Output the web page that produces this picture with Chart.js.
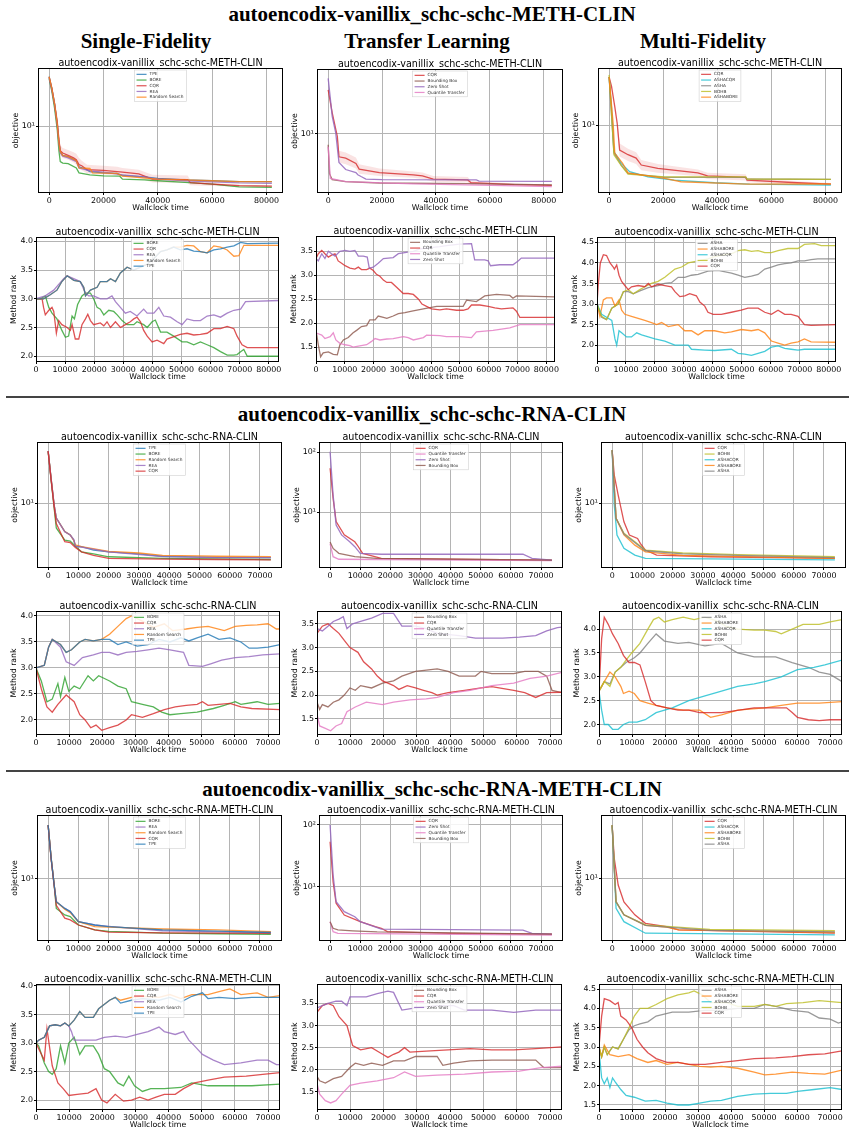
<!DOCTYPE html>
<html>
<head>
<meta charset="utf-8">
<script src="https://cdn.jsdelivr.net/npm/chart.js@4.4.1/dist/chart.umd.min.js"></script>
<style>
  body { margin: 0; background: #fff; width: 854px; height: 1135px; position: relative; overflow: hidden; }
  canvas { position: absolute; }
  .h { position: absolute; font-family: 'Liberation Serif', serif; font-weight: bold; font-size: 21px;
       line-height: 21px; white-space: nowrap; transform: translateX(-50%); color: #000; }
  .sep { position: absolute; left: 6px; width: 843px; height: 2px; background: #444; }
</style>
</head>
<body>
<div class="h" style="left:432px;top:4px">autoencodix-vanillix_schc-schc-METH-CLIN</div>
<div class="h" style="left:146px;top:31px">Single-Fidelity</div>
<div class="h" style="left:427px;top:31px">Transfer Learning</div>
<div class="h" style="left:703px;top:31px">Multi-Fidelity</div>
<div class="sep" style="top:396px"></div>
<div class="h" style="left:432px;top:404px">autoencodix-vanillix_schc-schc-RNA-CLIN</div>
<div class="sep" style="top:770px"></div>
<div class="h" style="left:432px;top:779px">autoencodix-vanillix_schc-schc-RNA-METH-CLIN</div>

<script>
/* ── ticks ── */
const X_TICKS_20K = [0, 20000, 40000, 60000, 80000];
const X_TICKS_10K = [0, 10000, 20000, 30000, 40000, 50000, 60000, 70000, 80000];
const LOG_TICKS   = [10, 100];
const LOG_LABELS  = ['10¹', '10²'];
const RANK_TICKS  = [1.5, 2.0, 2.5, 3.0, 3.5, 4.0, 4.5];

const T1 = 'autoencodix-vanillix_schc-schc-METH-CLIN';
const T2 = 'autoencodix-vanillix_schc-schc-RNA-CLIN';
const T3 = 'autoencodix-vanillix_schc-schc-RNA-METH-CLIN';

/* ── data: [wallclock time in thousands, value] ── */

/* METH-CLIN objective */
const A_sf_TPE  = [[0,37],[1,27],[2,18],[3,10.5],[3.6,6.5],[4.1,5.1],[5,4.6],[7,4.45],[10,4.0],[11,3.4],[13,3.25],[15,3.0],[20,2.9],[25,2.85],[27,2.7],[35,2.6],[40,2.5],[50,2.4],[60,2.35],[70,2.3],[82,2.3]];
const A_sf_BORE = [[0,35],[1,25],[2,16],[3,9],[3.6,5.2],[4.1,3.9],[5,3.75],[7,3.7],[10,3.3],[11,2.9],[15,2.75],[20,2.68],[26,2.65],[27,2.45],[35,2.4],[40,2.35],[50,2.25],[60,2.15],[70,2.0],[82,1.97]];
const A_sf_CQR  = [[0,36.5],[1,27],[2,18],[3,11],[3.6,7],[4.1,5.2],[5,4.9],[7,4.6],[9,4.3],[10,4.1],[11,3.6],[12,3.5],[14,3.15],[20,3.1],[25,3.0],[27,2.95],[33,2.82],[38,2.45],[51,2.42],[52,2.23],[60,2.15],[70,2.07],[82,2.04]];
const A_sf_REA  = [[0,36],[1,26],[2,17.5],[3,10],[3.6,6.2],[4.1,4.9],[5,4.5],[7,4.3],[10,3.9],[11,3.3],[15,3.05],[20,2.95],[27,2.75],[35,2.6],[40,2.45],[50,2.35],[60,2.28],[70,2.22],[82,2.2]];
const A_sf_RS   = [[0,37],[1,27],[2,18],[3,10.5],[3.6,6.5],[4.1,5.1],[5,4.6],[7,4.45],[10,4.0],[11,3.3],[15,3.25],[16,2.9],[25,2.85],[27,2.65],[40,2.45],[50,2.4],[60,2.35],[70,2.3],[82,2.3]];
const A_sf_CQR_HI = [[2,21],[3,13],[3.6,8.5],[4.1,6.0],[5,5.6],[7,5.3],[9,5.0],[10,4.8],[11,4.3],[12,4.0],[14,3.6],[20,3.5],[25,3.4],[27,3.3],[33,3.15],[38,2.75],[51,2.7],[52,2.4],[60,2.25],[70,2.12],[82,2.08]];
const A_sf_CQR_LO = [[2,15],[3,9],[3.6,5.8],[4.1,4.6],[5,4.3],[7,4.1],[9,3.8],[10,3.6],[11,3.2],[12,3.1],[14,2.85],[20,2.8],[25,2.7],[27,2.65],[33,2.55],[38,2.25],[51,2.22],[52,2.08],[60,2.05],[70,2.02],[82,2.0]];

const A_tl_CQR = [[0,38],[1.5,19],[3.4,9.2],[4,5.0],[6.5,4.8],[10.3,4.1],[11.5,3.45],[19,3.1],[31.6,2.9],[35,2.8],[39,2.55],[51.8,2.48],[53,2.28],[69,2.15],[83,2.11]];
const A_tl_BB  = [[0,7.2],[0.5,3.0],[1.5,2.5],[6.5,2.36],[19,2.26],[51.8,2.22],[83,2.14]];
const A_tl_ZS  = [[0,54],[1.5,17],[2.8,10.3],[4,4.2],[6.5,3.4],[10.3,3.1],[11,2.9],[12.2,2.75],[14,2.55],[20,2.5],[55,2.48],[56,2.4],[83,2.38]];
const A_tl_QT  = [[0,6.8],[0.8,2.6],[6.5,2.36],[31.6,2.2],[56,2.12],[83,2.03]];
const A_tl_CQR_HI = [[3.4,11],[4,6.0],[6.5,5.7],[10.3,4.9],[11.5,4.0],[19,3.5],[31.6,3.2],[35,3.1],[39,2.8],[51.8,2.72],[53,2.4],[69,2.22],[83,2.16]];
const A_tl_CQR_LO = [[3.4,7.8],[4,4.2],[6.5,4.0],[10.3,3.5],[11.5,3.0],[19,2.8],[31.6,2.65],[35,2.55],[39,2.35],[51.8,2.3],[53,2.15],[69,2.08],[83,2.06]];

const A_mf_CQR      = [[0,36],[0.9,28],[2.1,16.4],[3,10.5],[3.9,5.2],[7,4.6],[10,4.2],[11.9,3.5],[18,3.2],[32.8,2.85],[36.4,2.62],[50.5,2.52],[51,2.35],[69.6,2.19],[82,2.11]];
const A_mf_ASHACQR  = [[0,36],[0.9,16],[1.8,5.0],[4.5,3.66],[7.6,2.94],[14.4,2.56],[24,2.35],[39,2.19],[52,2.11],[82,2.06]];
const A_mf_ASHA     = [[0,36],[1.8,4.8],[4.5,3.5],[7,2.8],[20.5,2.52],[50.5,2.52],[51,2.42],[82,2.39]];
const A_mf_BOHB     = [[0,38],[1.8,4.6],[4.5,3.45],[7,2.75],[20.5,2.56],[50.5,2.56],[51,2.42],[82,2.39]];
const A_mf_ASHABORE = [[0,36],[1.5,10.5],[2.1,4.8],[5,3.66],[7,2.85],[20.5,2.46],[26.6,2.25],[51,2.11],[82,2.12]];
const A_mf_CQR_HI = [[3,12],[3.9,6.2],[7,5.4],[10,4.9],[11.9,4.0],[18,3.6],[32.8,3.1],[36.4,2.85],[50.5,2.75],[51,2.5],[69.6,2.28],[82,2.18]];
const A_mf_CQR_LO = [[3,9],[3.9,4.4],[7,3.9],[10,3.6],[11.9,3.05],[18,2.85],[32.8,2.6],[36.4,2.42],[50.5,2.32],[51,2.22],[69.6,2.1],[82,2.05]];

/* METH-CLIN rank */
const A_sr_TPE  = [[0,3.0],[2.6,3.0],[4.9,3.07],[7.2,3.15],[8.9,3.3],[10.7,3.4],[13,3.32],[15.2,3.3],[16.4,3.2],[17,3.05],[18.7,3.15],[21,3.2],[22.1,3.3],[24.4,3.3],[25.6,3.35],[27.3,3.3],[29,3.45],[31.3,3.55],[33.6,3.5],[35.9,3.55],[38.2,3.6],[40.5,3.7],[42.8,3.82],[45,3.85],[47.3,3.9],[49.6,3.85],[51.9,3.87],[54.2,3.83],[56.5,3.82],[58.8,3.8],[61.1,3.85],[63.4,3.87],[65.7,3.9],[68,3.92],[70.3,3.98],[72.6,3.96],[83.5,3.97]];
const A_sr_RS   = [[0,3.0],[2.6,3.0],[4.9,3.07],[7.2,3.15],[8.9,3.3],[10.7,3.4],[13,3.32],[15.2,3.3],[16.4,3.2],[17,3.05],[18.7,3.15],[21,3.2],[22.1,3.3],[24.4,3.3],[25.6,3.35],[27.3,3.3],[29,3.45],[31.3,3.55],[33.6,3.5],[35.9,3.55],[38.2,3.6],[40.5,3.7],[42.8,3.82],[45,3.85],[47.3,3.9],[49.6,3.9],[51.9,3.93],[54.2,3.92],[56.5,3.82],[58.8,3.8],[61.1,3.92],[63.4,3.9],[65.7,3.85],[68,3.74],[69.7,3.75],[71.4,3.93],[83.5,3.93]];
const A_sr_REA  = [[0,3.0],[3.2,3.05],[6.1,3.15],[7.8,3.25],[9.5,3.35],[10.7,3.4],[15.2,3.3],[17,3.1],[18.1,3.05],[19.8,3.05],[22.1,3.0],[24.4,3.0],[26.1,3.05],[27.3,2.95],[29,2.85],[30.7,2.75],[32.4,2.78],[34.7,2.7],[37,2.82],[38.2,2.75],[40.5,2.75],[42.2,2.85],[43.9,2.7],[46.2,2.68],[48.5,2.6],[50.2,2.55],[51.9,2.65],[54.2,2.62],[56.5,2.62],[58.8,2.7],[61.1,2.72],[63.4,2.68],[65.7,2.75],[68,2.8],[70.3,2.82],[72,2.95],[83.5,2.97]];
const A_sr_CQR  = [[0,3.0],[2.1,3.0],[2.6,2.85],[3.2,2.72],[4.4,2.8],[5.5,2.85],[6.1,2.78],[7.0,2.4],[7.8,2.62],[8.9,2.55],[10.7,2.5],[11.8,2.45],[12.4,2.55],[13.5,2.3],[14.7,2.3],[15.8,2.55],[17,2.65],[17.8,2.73],[18.7,2.62],[19.8,2.55],[22.1,2.58],[23.3,2.53],[24.4,2.6],[25.6,2.5],[27.3,2.6],[29,2.5],[30.7,2.55],[32.4,2.6],[33.6,2.65],[34.7,2.68],[35.9,2.6],[37,2.45],[38.2,2.35],[39.9,2.25],[41.6,2.28],[43.9,2.22],[45,2.3],[49.6,2.38],[51.9,2.4],[54.2,2.37],[56.5,2.38],[58.8,2.4],[61.1,2.48],[63.4,2.48],[65.7,2.52],[68,2.48],[69.1,2.35],[70.8,2.2],[72.6,2.15],[83.5,2.15]];
const A_sr_BORE = [[0,3.0],[1.5,3.0],[3.2,3.05],[4.4,2.85],[5.5,2.75],[7.2,2.65],[8.9,2.45],[10.1,2.33],[11.2,2.35],[12.4,2.7],[13.2,2.65],[14.3,2.9],[15.8,3.05],[17,3.1],[18.7,3.1],[19.8,3.0],[21,2.85],[22.1,2.82],[23.3,2.72],[25,2.8],[26.7,2.78],[27.9,2.72],[29.6,2.62],[31.3,2.55],[33.6,2.55],[34.7,2.6],[37,2.55],[38.2,2.5],[39.9,2.6],[41,2.63],[42.8,2.42],[45,2.42],[47.3,2.35],[50.2,2.25],[51.9,2.25],[54.2,2.2],[56.5,2.25],[58.8,2.2],[61.1,2.15],[63.4,2.08],[65.7,2.02],[68,2.02],[69.1,2.03],[70.3,2.08],[71.4,2.12],[72.6,2.0],[83.5,2.0]];

const A_tr_ZS  = [[0,3.35],[0.8,3.3],[2,3.45],[3.1,3.35],[4.3,3.5],[5.4,3.45],[6.6,3.4],[8.3,3.5],[10.1,3.52],[11.8,3.5],[13.5,3.52],[14.7,3.4],[16.4,3.4],[17.8,3.38],[18.5,3.15],[19.9,3.17],[21.6,3.25],[23.4,3.35],[26.8,3.37],[28.6,3.45],[31.4,3.48],[33.8,3.5],[36.1,3.55],[43,3.6],[45.3,3.62],[49.9,3.65],[54,3.66],[55.1,3.32],[58.6,3.32],[59.8,3.3],[60.6,3.2],[63.8,3.22],[68.4,3.22],[70.2,3.3],[71.3,3.36],[83,3.36]];
const A_tr_CQR = [[0,3.35],[0.8,3.45],[2.0,3.52],[3.1,3.45],[4.3,3.38],[5.4,3.42],[6.6,3.45],[7.7,3.3],[8.9,3.25],[10.1,3.2],[11.8,3.15],[13.5,3.13],[14.7,3.17],[15.8,3.12],[17.6,3.12],[18.7,3.15],[19.9,3.1],[21,3.02],[22.2,2.98],[23.4,2.9],[24.6,2.85],[26.2,2.85],[28,2.75],[30.3,2.62],[32,2.62],[33.8,2.6],[35.6,2.5],[36.8,2.4],[38.4,2.35],[40.1,2.3],[43,2.28],[45.3,2.3],[48.8,2.27],[51.1,2.27],[52.8,2.3],[54,2.38],[56.9,2.38],[59.8,2.35],[62.1,2.32],[64.4,2.3],[68.4,2.32],[69.6,2.25],[70.8,2.12],[83,2.12]];
const A_tr_BB  = [[0,1.85],[0.8,1.55],[1.6,1.3],[2.5,1.38],[4.3,1.4],[6,1.35],[7.4,1.34],[8.3,1.55],[9.5,1.65],[11.2,1.7],[12.9,1.8],[14.1,1.85],[15.8,1.93],[17.6,1.95],[18.7,2.07],[20.5,2.07],[21.6,2.15],[23.4,2.12],[24.6,2.1],[26.8,2.15],[28.6,2.2],[30.9,2.22],[33.3,2.25],[37.3,2.3],[41.9,2.35],[51.1,2.35],[52.3,2.48],[55.7,2.45],[56.9,2.5],[58.6,2.57],[62.7,2.6],[67.3,2.58],[68.4,2.52],[69.6,2.57],[83,2.55]];
const A_tr_QT  = [[0,1.8],[0.8,1.78],[2,1.75],[3.1,1.68],[4.9,1.72],[6,1.8],[6.9,1.65],[8.3,1.58],[10.1,1.55],[11.8,1.53],[12.9,1.5],[14.7,1.52],[17.6,1.55],[19.3,1.62],[20.5,1.68],[22.2,1.65],[24.6,1.67],[26.8,1.68],[28.6,1.7],[30.3,1.72],[32,1.7],[33.8,1.65],[37.3,1.7],[38.4,1.75],[43,1.74],[45.3,1.72],[49.9,1.72],[54,1.7],[55.7,1.82],[61.5,1.85],[67.3,1.9],[70.8,1.97],[83,1.97]];

const A_mr_ASHA     = [[0,3.0],[1.6,2.68],[3.3,2.62],[5.1,2.9],[7.3,3.0],[9.1,3.3],[10.8,3.3],[12.5,3.25],[14.8,3.32],[17.7,3.4],[21.1,3.45],[23.4,3.5],[25.7,3.52],[28.0,3.65],[30.3,3.65],[32.6,3.7],[34.9,3.72],[38.3,3.8],[41.8,3.82],[46.4,3.75],[48.7,3.7],[51.0,3.65],[53.3,3.68],[55.6,3.72],[57.9,3.85],[60.2,3.9],[62.5,3.95],[64.8,3.98],[67.0,4.0],[69.4,4.05],[71.6,4.05],[73.9,4.08],[76.2,4.1],[82.5,4.1]];
const A_mr_ASHABORE = [[0,3.0],[1.0,2.7],[2.2,3.1],[3.3,3.15],[5.1,3.15],[6.2,2.95],[7.6,3.1],[8.5,2.85],[9.6,2.75],[11.9,2.7],[14.2,2.65],[16.5,2.6],[18.8,2.55],[20.6,2.5],[22.3,2.55],[24.6,2.45],[28.0,2.5],[30.3,2.35],[32.6,2.35],[34.9,2.25],[37.2,2.35],[40.6,2.35],[44.1,2.3],[46.4,2.32],[49.8,2.38],[53.3,2.35],[55.6,2.38],[57.9,2.3],[60.2,2.1],[62.5,2.05],[64.8,2.0],[67.0,2.05],[69.4,2.08],[71.6,2.15],[73.9,2.08],[82.5,2.07]];
const A_mr_ASHACQR  = [[0,3.0],[1.6,2.75],[3.3,2.68],[5.1,2.6],[6.2,2.15],[6.8,2.0],[7.6,2.35],[8.5,2.3],[10.2,2.2],[11.9,2.2],[13.7,2.3],[15.4,2.25],[17.7,2.2],[20.0,2.15],[23.4,2.1],[26.9,2.0],[29.2,2.0],[31.5,2.0],[32.6,1.9],[37.2,1.88],[40.6,1.87],[46.4,1.9],[48.7,1.8],[51.0,1.78],[53.3,1.75],[55.6,1.8],[57.9,1.85],[60.2,1.95],[62.5,1.98],[64.8,1.92],[67.0,1.9],[69.4,1.88],[71.6,1.9],[82.5,1.9]];
const A_mr_BOHB     = [[0,3.0],[1.6,2.7],[3.3,2.62],[5.1,2.9],[7.3,3.0],[9.1,3.3],[10.8,3.35],[12.5,3.25],[14.8,3.35],[16.5,3.42],[18.8,3.5],[21.1,3.55],[23.4,3.65],[26.9,3.85],[29.2,3.9],[31.5,4.0],[34.9,4.05],[38.3,4.1],[40.6,4.15],[44.1,4.2],[46.4,4.22],[48.7,4.3],[51.0,4.32],[53.3,4.28],[55.6,4.3],[57.9,4.25],[60.2,4.25],[62.5,4.3],[65.9,4.35],[69.4,4.35],[71.6,4.45],[75.1,4.47],[77.4,4.42],[82.5,4.42]];
const A_mr_CQR      = [[0,3.0],[0.46,3.5],[1.15,4.0],[2.2,4.2],[3.3,4.18],[4.5,4.0],[5.6,3.9],[6.0,3.85],[6.8,3.95],[7.6,3.7],[8.5,3.55],[9.6,3.45],[10.8,3.35],[11.9,3.42],[14.2,3.45],[16.5,3.42],[17.7,3.5],[18.8,3.42],[21.1,3.48],[23.4,3.45],[25.7,3.42],[26.9,3.3],[28.6,3.18],[30.3,3.2],[32.0,3.25],[34.3,3.2],[35.5,3.05],[37.2,2.95],[38.3,2.8],[40.1,2.75],[42.9,2.75],[46.4,2.8],[49.8,2.85],[52.1,2.9],[55.6,2.9],[57.9,2.8],[60.2,2.75],[62.5,2.85],[64.8,2.75],[67.0,2.75],[69.4,2.7],[71.6,2.5],[73.9,2.48],[82.5,2.5]];

/* RNA-CLIN objective */
const B_sf_TPE  = [[0,54.6],[1,22],[2,9.4],[2.7,6.2],[5.5,4.0],[7.3,3.6],[8.5,3.0],[9,2.5],[11,2.45],[15,2.2],[20,2.08],[30,1.95],[37.8,1.8],[55.7,1.74],[73.6,1.72]];
const B_sf_BORE = [[0,54],[1,21],[2,8.5],[2.7,4.5],[5.5,3.04],[7.3,2.95],[9,2.5],[11,2.08],[15,1.95],[20,1.77],[37.8,1.68],[55.7,1.65],[73.6,1.62]];
const B_sf_RS   = [[0,54.6],[1,22],[2,9.4],[2.7,6.2],[5.5,4.0],[7.3,3.6],[8.5,3.0],[9,2.6],[11,2.45],[20,2.1],[30,2.0],[37.8,1.85],[55.7,1.8],[73.6,1.77]];
const B_sf_REA  = [[0,54.6],[1,22],[2,9.4],[2.7,6.2],[5.5,3.98],[7.3,3.58],[8.5,3.1],[9,2.5],[11,2.42],[20,2.08],[37.8,1.78],[55.7,1.72],[73.6,1.72]];
const B_sf_CQR  = [[0,54],[1,21],[2,8.8],[2.7,5.2],[5.5,2.88],[7.3,2.8],[9,2.4],[11,2.08],[15,1.85],[20,1.68],[37.8,1.64],[55.7,1.62],[73.6,1.6]];

const B_tl_CQR = [[0,54],[1,17],[2,7],[4.7,4.2],[8.2,3.23],[9,2.85],[10.8,2.07],[17,1.71],[40,1.65],[73.6,1.6]];
const B_tl_QT  = [[0,3.0],[1,1.82],[2.9,1.65],[73.6,1.57]];
const B_tl_ZS  = [[0,102],[1,19.4],[2,6.1],[3.8,4.2],[6.5,3.23],[8.2,2.67],[10,2.07],[17,2.0],[64,2.0],[67,1.71],[73.6,1.6]];
const B_tl_BB  = [[0,3.2],[1,2.5],[2.9,2.07],[8.2,1.82],[15.4,1.71],[73.6,1.6]];

const B_mf_CQR      = [[0,56],[0.7,25],[2,13],[3.9,5.5],[5.7,3.58],[8.4,3.2],[9.3,2.73],[11,2.2],[14.7,1.87],[32.6,1.77],[73.6,1.68]];
const B_mf_BOHB     = [[0,56],[1.3,6.15],[3.9,3.8],[11,2.2],[23.3,2.0],[41.6,1.9],[73.6,1.77]];
const B_mf_ASHACQR  = [[0,56],[0.7,9.5],[1.6,3.58],[3.9,2.33],[7.5,1.87],[11,1.68],[73.6,1.6]];
const B_mf_ASHABORE = [[0,56],[1.3,6.15],[3.9,3.6],[7.5,2.58],[11,2.08],[23.3,1.85],[73.6,1.68]];
const B_mf_ASHA     = [[0,56],[1.3,6.15],[3.9,3.7],[11,2.15],[23.3,1.95],[41.6,1.85],[73.6,1.72]];

/* RNA-CLIN rank */
const B_sr_BORE = [[0,3.0],[1.6,2.75],[3.3,2.35],[4.9,2.4],[6.6,2.7],[7.4,2.45],[8.7,2.82],[9.9,2.55],[11.5,2.65],[13.2,2.6],[15.7,2.85],[17.3,2.75],[18.9,2.85],[22.2,2.75],[24.7,2.65],[27.2,2.6],[28.8,2.35],[32.1,2.3],[35.4,2.25],[37.9,2.15],[40.4,2.1],[43.7,2.12],[48.6,2.15],[53.5,2.22],[56.8,2.28],[60.1,2.35],[61.8,2.3],[66.7,2.35],[70,2.3],[73.6,2.32]];
const B_sr_CQR  = [[0,3.0],[1.6,2.6],[3.3,2.25],[4.9,2.15],[6.6,2.3],[9.1,2.48],[11.5,2.35],[13.2,2.1],[14.8,2.0],[16.5,1.85],[18.1,1.9],[19.8,1.8],[22.2,1.85],[24.7,1.9],[27.2,2.0],[28.8,2.1],[32.1,2.05],[35.4,2.12],[38.7,2.2],[42,2.25],[45.3,2.28],[48.6,2.3],[50.2,2.35],[51.9,2.28],[55.2,2.3],[58.5,2.32],[61.8,2.25],[65.1,2.22],[73.6,2.2]];
const B_sr_REA  = [[0,3.0],[2.5,3.05],[3.8,3.4],[4.9,3.55],[7.4,3.4],[9.1,3.12],[11.5,3.05],[14,3.2],[17.3,3.25],[19.8,3.3],[22.2,3.3],[24.7,3.25],[27.2,3.3],[30.5,3.32],[33.8,3.35],[37.1,3.38],[40.4,3.35],[44.5,3.3],[46.1,3.05],[50.2,3.03],[52.7,3.08],[56,3.15],[60.1,3.2],[64.3,3.22],[68.4,3.25],[73.6,3.27]];
const B_sr_RS   = [[0,3.0],[2.5,3.05],[3.8,3.4],[4.9,3.55],[7.4,3.45],[9.1,3.3],[10.7,3.35],[13.2,3.5],[14.8,3.55],[17.3,3.52],[19.8,3.55],[22.2,3.65],[24.7,3.8],[27.2,3.95],[28.8,4.0],[32.1,3.9],[35.4,3.78],[38.7,3.85],[41.2,3.72],[45.3,3.75],[48.6,3.78],[51.9,3.8],[56.8,3.72],[60.1,3.8],[63.4,3.82],[66.7,3.83],[70,3.85],[72.5,3.75],[73.6,3.75]];
const B_sr_TPE  = [[0,3.0],[2.5,3.05],[3.8,3.4],[4.9,3.55],[7.4,3.45],[9.1,3.3],[10.7,3.35],[13.2,3.5],[14.8,3.55],[17.3,3.52],[19.8,3.55],[22.2,3.55],[24.7,3.45],[27.2,3.5],[30.5,3.42],[33.8,3.45],[37.1,3.55],[40.4,3.5],[43.7,3.58],[46.1,3.52],[48.6,3.58],[51.9,3.65],[55.2,3.55],[58.5,3.58],[61.8,3.5],[64.3,3.38],[66.7,3.38],[70,3.4],[73.6,3.45]];

const B_tr_BB  = [[0,1.85],[0.8,1.7],[1.6,1.8],[3.3,1.75],[4.9,1.85],[6.6,1.9],[8.2,2.0],[9.9,2.15],[11.5,2.1],[13.1,2.2],[16.4,2.15],[19.7,2.25],[23.0,2.3],[25.5,2.4],[29.6,2.5],[36.1,2.55],[39.4,2.5],[42.7,2.4],[47.6,2.4],[49.3,2.5],[52.5,2.45],[59.1,2.45],[62.4,2.5],[66.5,2.5],[69.0,2.4],[70.6,2.1],[73.6,2.05]];
const B_tr_CQR = [[0,3.3],[1.6,3.45],[3.3,3.5],[4.9,3.4],[6.6,3.3],[8.2,3.15],[9.9,3.0],[12.3,2.9],[14.0,2.7],[16.4,2.55],[18.1,2.4],[19.7,2.3],[21.3,2.25],[23.0,2.2],[24.6,2.12],[27.1,2.2],[29.6,2.15],[32.0,2.1],[34.5,2.05],[36.1,2.0],[39.4,2.05],[44.3,2.1],[49.3,2.15],[52.5,2.18],[59.1,2.1],[62.4,2.05],[65.7,1.95],[69.0,2.05],[73.6,2.06]];
const B_tr_QT  = [[0,1.6],[0.8,1.35],[2.5,1.3],[4.1,1.25],[5.7,1.35],[7.4,1.4],[9.0,1.65],[11.5,1.75],[14.8,1.85],[19.7,1.8],[23.0,1.85],[27.9,1.9],[32.8,1.92],[36.1,1.95],[41.1,2.05],[46.0,2.1],[52.5,2.2],[59.1,2.25],[64.0,2.35],[69.0,2.4],[73.6,2.48]];
const B_tr_ZS  = [[0,3.4],[1.6,3.35],[3.3,3.45],[4.9,3.55],[6.6,3.6],[7.9,3.65],[9.0,3.4],[10.7,3.5],[13.1,3.55],[16.4,3.62],[19.7,3.72],[23.0,3.72],[25.5,3.45],[29.6,3.45],[32.8,3.4],[36.1,3.3],[42.7,3.25],[47.6,3.2],[55.8,3.2],[60.8,3.22],[65.7,3.25],[69.0,3.35],[72.2,3.42],[73.6,3.43]];

const B_mr_ASHA     = [[0,2.7],[1.6,2.9],[3.3,2.85],[4.9,3.1],[6.6,3.2],[8.2,3.3],[10.7,3.4],[12.4,3.5],[14.8,3.7],[17.3,3.9],[19.8,3.75],[23.9,3.7],[27.2,3.72],[32.1,3.65],[37.1,3.7],[42.0,3.5],[47.0,3.42],[53.5,3.42],[58.5,3.3],[63.4,3.2],[66.7,3.1],[70.0,3.05],[73.6,2.9]];
const B_mr_ASHABORE = [[0,2.7],[1.6,2.9],[3.3,3.1],[4.9,3.0],[6.6,2.8],[7.4,2.65],[9.1,2.7],[10.7,2.65],[12.4,2.5],[14.8,2.45],[17.3,2.4],[20.6,2.35],[25.5,2.3],[30.5,2.3],[33.8,2.15],[37.1,2.2],[42.0,2.3],[50.2,2.35],[55.2,2.4],[60.1,2.45],[66.7,2.45],[73.6,2.48]];
const B_mr_ASHACQR  = [[0,2.7],[0.8,2.3],[1.6,2.0],[2.8,2.0],[4.1,1.9],[5.8,1.9],[7.4,2.0],[9.1,2.05],[11.5,2.05],[14.0,2.1],[17.3,2.25],[22.2,2.35],[27.2,2.5],[32.1,2.6],[37.1,2.7],[42.0,2.8],[47.0,2.85],[50.2,2.9],[55.2,3.0],[60.1,3.15],[65.1,3.2],[68.4,3.25],[73.6,3.35]];
const B_mr_BOHB     = [[0,2.7],[1.6,2.9],[3.3,2.8],[4.9,3.1],[6.6,3.2],[8.2,3.35],[9.9,3.5],[12.4,3.7],[14.8,4.0],[16.5,4.2],[18.1,4.25],[19.8,4.15],[22.2,4.2],[25.5,4.25],[28.8,4.2],[32.1,4.25],[35.4,4.18],[38.7,4.05],[42.0,4.0],[47.0,3.98],[50.2,3.98],[53.5,3.95],[55.2,3.9],[58.5,4.0],[61.8,4.1],[66.7,4.1],[70.0,4.15],[73.6,4.2]];
const B_mr_CQR      = [[0,2.7],[0.8,3.8],[1.6,4.25],[2.8,4.1],[4.1,3.9],[5.8,3.7],[7.4,3.45],[9.1,3.3],[10.7,3.3],[12.4,3.25],[14.0,2.9],[15.7,2.5],[17.3,2.4],[20.6,2.35],[23.9,2.3],[27.2,2.3],[30.5,2.25],[33.8,2.25],[37.1,2.25],[40.4,2.28],[47.0,2.35],[50.2,2.35],[53.5,2.35],[56.8,2.35],[58.5,2.25],[60.1,2.15],[63.4,2.1],[66.7,2.08],[70.0,2.1],[73.6,2.1]];

/* RNA-METH-CLIN objective */
const C_sf_BORE = [[0,59],[1,19.7],[2,8.2],[2.7,3.8],[5.5,3.06],[7.3,2.9],[10,2.2],[15.4,1.87],[20,1.78],[37.8,1.68],[56,1.65],[73.6,1.62]];
const C_sf_REA  = [[0,59],[1,19.7],[2,8.2],[2.7,4.74],[5.5,3.8],[7.3,3.42],[10,2.45],[15.4,2.2],[20,2.1],[37.8,1.82],[56,1.75],[73.6,1.72]];
const C_sf_RS   = [[0,59],[1,19.7],[2,8.2],[2.7,4.74],[5.5,3.7],[7.3,3.3],[10,2.45],[15.4,2.08],[20,2.05],[37.8,1.93],[56,1.87],[73.6,1.77]];
const C_sf_CQR  = [[0,58],[1,19],[2,8],[2.7,4.2],[5.5,2.75],[7.3,2.6],[10,2.2],[15.4,1.87],[20,1.74],[37.8,1.7],[56,1.68],[73.6,1.67]];
const C_sf_TPE  = [[0,59],[1,19.7],[2,8.2],[2.7,4.74],[5.5,3.8],[7.3,3.42],[10,2.45],[15.4,2.2],[20,2.08],[37.8,1.87],[56,1.8],[73.6,1.72]];

const C_tl_CQR = [[0,53.6],[1,12],[2,5.4],[4.7,3.48],[10,2.71],[15,2.25],[17,2.12],[19,1.87],[40,1.75],[73.6,1.7]];
const C_tl_ZS  = [[0,100],[1,15.5],[2,5.7],[4.7,3.94],[8.2,3.27],[10,2.71],[17,2.06],[64,1.98],[67,1.76],[73.6,1.7]];
const C_tl_QT  = [[0,2.7],[1,1.87],[2.6,1.76],[73.6,1.65]];
const C_tl_BB  = [[0,2.7],[1,2.12],[2.6,2.0],[7.5,1.93],[15.6,1.85],[73.6,1.7]];

const C_mf_CQR      = [[0,57],[0.7,19.3],[2,8],[3.9,4.6],[7.5,3.0],[11,2.27],[18,2.04],[22,1.83],[73.6,1.65]];
const C_mf_ASHACQR  = [[0,57],[1.3,3.73],[3.9,2.4],[11,1.64],[73.6,1.55]];
const C_mf_ASHABORE = [[0,57],[1.3,4.6],[3.9,3.0],[11,2.13],[18,2.0],[22,1.83],[73.6,1.68]];
const C_mf_BOHB     = [[0,57],[1.3,4.6],[3.9,3.0],[11,2.16],[18,2.05],[32.3,1.86],[73.6,1.78]];
const C_mf_ASHA     = [[0,57],[1.3,4.6],[3.9,3.0],[11,2.13],[18,2.0],[32.3,1.8],[73.6,1.72]];

/* RNA-METH-CLIN rank */
const C_sr_BORE = [[0,3.0],[0.8,2.95],[2.5,2.65],[3.8,2.5],[4.9,2.45],[6.1,2.55],[7.4,2.95],[8.7,2.65],[9.9,3.0],[11.5,3.1],[13.2,2.8],[14.8,2.95],[17.3,2.95],[18.9,2.8],[20.6,2.55],[22.2,2.5],[24.7,2.3],[26.4,2.25],[28.0,2.42],[29.7,2.25],[32.1,2.15],[34.6,2.2],[38.7,2.2],[43.7,2.22],[47.0,2.3],[51.9,2.25],[58.5,2.25],[65.1,2.25],[73.6,2.28]];
const C_sr_CQR  = [[0,3.0],[0.8,2.9],[2.5,2.7],[3.3,3.25],[4.9,2.6],[6.6,2.3],[8.2,2.2],[9.9,2.08],[12.4,2.1],[15.7,2.12],[18.1,2.2],[19.8,2.0],[21.4,1.95],[23.9,2.1],[26.4,1.98],[28.8,2.0],[31.3,2.05],[33.8,2.0],[36.2,2.05],[38.7,2.1],[42.0,2.1],[44.5,2.2],[47.8,2.3],[51.9,2.35],[56.8,2.4],[63.4,2.42],[68.4,2.45],[73.6,2.48]];
const C_sr_REA  = [[0,3.0],[0.8,3.05],[2.5,3.1],[4.1,3.3],[5.8,3.32],[7.4,3.3],[8.7,3.35],[9.9,3.3],[10.7,3.2],[11.5,3.05],[13.2,3.05],[15.7,3.05],[18.1,3.05],[20.6,3.1],[23.9,3.12],[27.2,3.1],[30.5,3.15],[33.8,3.2],[37.1,3.28],[38.7,3.2],[42.0,3.15],[44.5,3.2],[46.1,3.05],[47.8,2.95],[50.2,2.8],[53.5,2.7],[56.8,2.62],[61.8,2.65],[66.7,2.7],[70.0,2.7],[72.5,2.62],[73.6,2.62]];
const C_sr_RS   = [[0,3.0],[0.8,3.05],[2.5,3.1],[4.1,3.3],[5.8,3.32],[7.4,3.3],[8.7,3.35],[9.9,3.3],[11.5,3.4],[13.2,3.55],[14.8,3.45],[17.3,3.45],[18.9,3.6],[22.2,3.75],[23.9,3.8],[25.5,3.75],[28.8,3.8],[32.1,3.82],[37.1,3.8],[40.4,3.85],[43.7,3.78],[47.0,3.85],[51.9,3.85],[55.2,3.9],[58.5,3.95],[61.8,3.85],[66.7,3.88],[70.0,3.8],[73.6,3.83]];
const C_sr_TPE  = [[0,3.0],[0.8,3.05],[2.5,3.1],[4.1,3.3],[5.8,3.32],[7.4,3.3],[8.7,3.35],[9.9,3.3],[11.5,3.4],[13.2,3.55],[14.8,3.45],[17.3,3.45],[18.9,3.6],[22.2,3.75],[23.9,3.8],[25.5,3.7],[28.8,3.75],[32.1,3.78],[37.1,3.75],[40.4,3.8],[43.7,3.72],[47.0,3.82],[50.2,3.88],[51.9,3.78],[55.2,3.8],[60.1,3.78],[65.1,3.8],[73.6,3.8]];

const C_tr_BB  = [[0,1.85],[0.8,1.75],[2.5,1.7],[4.9,1.8],[7.4,1.85],[9.9,2.05],[11.5,2.15],[14.0,2.1],[16.4,2.15],[19.7,2.1],[23.0,2.2],[26.3,2.2],[29.6,2.3],[36.1,2.3],[37.8,2.1],[41.1,2.15],[46.0,2.2],[52.5,2.22],[65.7,2.22],[68.1,2.05],[73.6,2.05]];
const C_tr_CQR = [[0,3.3],[1.6,3.45],[3.3,3.5],[4.9,3.45],[6.6,3.2],[9.0,3.0],[10.7,2.55],[13.1,2.45],[16.4,2.5],[19.7,2.35],[21.3,2.28],[23.0,2.35],[24.6,2.4],[26.3,2.5],[27.9,2.4],[32.8,2.42],[39.4,2.45],[46.0,2.48],[52.5,2.45],[59.1,2.45],[65.7,2.48],[73.6,2.52]];
const C_tr_QT  = [[0,1.7],[0.8,1.45],[2.5,1.3],[4.1,1.25],[5.7,1.3],[7.4,1.45],[9.9,1.65],[13.1,1.7],[18.1,1.75],[23.0,1.82],[26.3,1.95],[29.6,1.85],[36.1,1.88],[44.3,1.9],[52.5,1.95],[60.8,1.97],[67.3,2.05],[73.6,2.08]];
const C_tr_ZS  = [[0,3.4],[1.6,3.45],[3.3,3.5],[5.7,3.55],[7.4,3.55],[9.0,3.45],[9.9,3.65],[14.8,3.65],[18.1,3.72],[21.3,3.78],[23.0,3.75],[25.5,3.35],[29.6,3.4],[36.1,3.45],[41.1,3.45],[44.3,3.35],[52.5,3.35],[59.1,3.3],[65.7,3.35],[73.6,3.35]];

const C_mr_ASHA     = [[0,3.0],[0.8,2.75],[1.6,3.0],[2.5,2.8],[4.1,3.0],[5.8,2.95],[7.4,3.2],[9.1,3.45],[10.7,3.55],[12.4,3.6],[14.8,3.65],[17.3,3.8],[22.2,3.9],[27.2,3.9],[32.1,3.95],[37.1,3.95],[42.0,4.0],[47.0,4.0],[50.2,4.1],[53.5,4.05],[58.5,3.95],[63.4,3.9],[66.7,3.75],[70.0,3.72],[72.5,3.62],[73.6,3.65]];
const C_mr_ASHABORE = [[0,3.0],[0.8,2.75],[1.6,3.05],[3.3,2.8],[5.8,2.75],[9.1,2.8],[11.5,2.7],[14.8,2.6],[17.3,2.65],[20.6,2.55],[23.9,2.6],[27.2,2.55],[30.5,2.5],[33.8,2.48],[37.1,2.5],[42.0,2.45],[47.0,2.35],[50.2,2.28],[53.5,2.3],[58.5,2.35],[63.4,2.32],[68.4,2.3],[73.6,2.4]];
const C_mr_ASHACQR  = [[0,2.9],[0.8,2.2],[1.6,2.05],[2.5,2.2],[3.3,1.95],[4.1,2.2],[4.9,2.1],[6.6,1.9],[8.2,1.75],[10.7,1.7],[14.0,1.6],[17.3,1.62],[20.6,1.55],[23.9,1.5],[27.2,1.5],[30.5,1.55],[33.8,1.6],[37.1,1.62],[42.0,1.72],[47.0,1.78],[51.9,1.8],[56.8,1.8],[60.1,1.85],[65.1,1.9],[70.0,1.95],[73.6,1.9]];
const C_mr_BOHB     = [[0,3.0],[0.8,2.75],[1.6,3.0],[2.5,2.8],[4.1,3.0],[5.8,2.95],[7.4,3.2],[9.1,3.5],[10.7,3.8],[12.4,4.0],[14.8,4.0],[17.3,4.1],[20.6,4.25],[23.9,4.35],[27.2,4.4],[28.8,4.45],[31.3,4.35],[33.8,4.15],[38.7,4.15],[42.0,4.05],[47.0,4.05],[50.2,4.1],[53.5,4.05],[56.8,4.12],[61.8,4.15],[66.7,4.2],[73.6,4.15]];
const C_mr_CQR      = [[0,3.0],[0.8,3.8],[1.6,4.25],[3.3,4.2],[4.9,4.1],[5.8,4.15],[6.6,3.8],[8.2,3.7],[9.9,3.5],[11.5,3.2],[13.2,3.0],[14.8,2.85],[17.3,2.7],[20.6,2.6],[23.9,2.6],[27.2,2.55],[32.1,2.55],[37.1,2.6],[42.0,2.65],[47.0,2.7],[53.5,2.72],[58.5,2.75],[63.4,2.8],[68.4,2.82],[73.6,2.9]];

/* ── styling ── */
const COLORS = {
  'TPE': 'rgba(31,119,180,0.8)', 'BORE': 'rgba(44,160,44,0.8)', 'CQR': 'rgba(214,39,40,0.8)',
  'REA': 'rgba(148,103,189,0.8)', 'Random Search': 'rgba(255,127,14,0.8)',
  'Bounding Box': 'rgba(140,86,75,0.8)', 'Zero Shot': 'rgba(148,103,189,0.85)', 'Quantile Transfer': 'rgba(227,119,194,0.8)',
  'ASHA': 'rgba(127,127,127,0.8)', 'BOHB': 'rgba(188,189,34,0.8)', 'ASHACQR': 'rgba(23,190,207,0.8)', 'ASHABORE': 'rgba(255,127,14,0.8)'
};
const FAMILY = "'DejaVu Sans', sans-serif";
const YW = 40, PT = 16, XH = 30, PR = 20;
const TICK_FONT = 7.9;

Chart.defaults.font.family = FAMILY;
Chart.defaults.color = '#000';

function pts(arr) { return arr.map(([k, v]) => ({ x: k * 1000, y: v })); }

/* frame, subplot title and matplotlib-like legend */
const decor = {
  id: 'decor',
  afterDatasetsDraw(chart, args, o) {
    const { ctx, chartArea: a } = chart;
    ctx.save();
    ctx.strokeStyle = '#000';
    ctx.lineWidth = 1;
    ctx.strokeRect(Math.round(a.left) + 0.5, Math.round(a.top) + 0.5, Math.round(a.right - a.left) - 1, Math.round(a.bottom - a.top) - 1);

    ctx.font = '4.3px ' + FAMILY;
    const rowH = 5.7;
    const tw = Math.max(...o.legend.map(n => ctx.measureText(n).width));
    const bw = 15 + tw + 3, bh = o.legend.length * rowH + 3;
    const bx = (a.left + a.right) / 2 - bw / 2, by = a.top + 2;
    ctx.fillStyle = 'rgba(255,255,255,0.85)';
    ctx.fillRect(bx, by, bw, bh);
    ctx.strokeStyle = '#d0d0d0';
    ctx.lineWidth = 0.6;
    ctx.strokeRect(bx, by, bw, bh);
    o.legend.forEach((n, i) => {
      const y = by + 1.5 + rowH * (i + 0.5);
      ctx.strokeStyle = COLORS[n];
      ctx.lineWidth = 1.2;
      ctx.beginPath(); ctx.moveTo(bx + 2, y); ctx.lineTo(bx + 12, y); ctx.stroke();
      ctx.fillStyle = '#333';
      ctx.textBaseline = 'middle';
      ctx.textAlign = 'left';
      ctx.fillText(n, bx + 15, y);
    });

    ctx.fillStyle = '#000';
    ctx.font = '9.6px ' + FAMILY;
    ctx.textAlign = 'center';
    ctx.textBaseline = 'alphabetic';
    ctx.fillText(o.title, (a.left + a.right) / 2, a.top - 2.5);
    ctx.restore();
  }
};

function makePanel(p) {
  const [L, T, R, B] = p.box;
  const W = R - L + YW + PR, H = B - T + PT + XH;
  const cv = document.createElement('canvas');
  cv.width = W; cv.height = H;
  cv.style.cssText = `left:${L - YW}px;top:${T - PT}px;width:${W}px;height:${H}px`;
  document.body.appendChild(cv);

  const isObj = p.kind === 'obj';
  const lines = p.series.map(([name, data]) => ({
    label: name, data: pts(data), borderColor: COLORS[name], borderWidth: 1.3,
    pointRadius: 0, fill: false, tension: 0
  }));
  const datasets = lines.slice().reverse();
  if (p.band) {
    datasets.push({ label: 'hi', data: pts(p.band[0]), borderWidth: 0, pointRadius: 0, fill: false });
    datasets.push({ label: 'lo', data: pts(p.band[1]), borderWidth: 0, pointRadius: 0, fill: '-1',
                    backgroundColor: 'rgba(214,39,40,0.13)' });
  }

  const grid = { color: '#b4b4b4', lineWidth: 1 };
  new Chart(cv, {
    type: 'line',
    data: { datasets },
    plugins: [decor],
    options: {
      responsive: false, animation: false, events: [], devicePixelRatio: 1,
      layout: { padding: { left: 0, top: PT, right: PR, bottom: 0 } },
      plugins: {
        legend: { display: false }, tooltip: { enabled: false },
        decor: { title: p.title, legend: p.series.map(s => s[0]) }
      },
      scales: {
        x: {
          type: 'linear', min: p.xMin, max: p.xMax,
          afterBuildTicks: s => { s.ticks = p.xTicks.filter(v => v >= s.min && v <= s.max).map(v => ({ value: v })); },
          afterFit: s => { s.height = XH; },
          grid: { ...grid, drawTicks: true, tickLength: 2, tickColor: '#000' },
          border: { display: false },
          ticks: { font: { size: TICK_FONT }, padding: 1, maxRotation: 0, autoSkip: false, callback: v => String(v) },
          title: { display: true, text: 'Wallclock time', font: { size: 7.8 }, padding: { top: 0, bottom: 10.3 } }
        },
        y: {
          type: isObj ? 'logarithmic' : 'linear', min: p.yMin, max: p.yMax,
          afterBuildTicks: s => {
            const src = isObj ? LOG_TICKS : RANK_TICKS;
            s.ticks = src.filter(v => v >= s.min && v <= s.max).map(v => ({ value: v }));
          },
          afterFit: s => { s.width = YW; },
          grid: { ...grid, drawTicks: true, tickLength: 2, tickColor: '#000' },
          border: { display: false },
          ticks: {
            font: { size: TICK_FONT }, padding: 1, autoSkip: false,
            callback: v => isObj ? LOG_LABELS[LOG_TICKS.indexOf(v)] : v.toFixed(1)
          },
          title: { display: true, text: isObj ? 'objective' : 'Method rank', font: { size: 7.8 }, padding: { top: 13.3, bottom: 0 } }
        }
      }
    }
  });
}

const objRange = d => ({ xMin: -0.05 * d * 1000, xMax: 1.05 * d * 1000 });

const panels = [
  /* METH-CLIN */
  { kind: 'obj', title: T1, box: [38, 68, 283, 193], ...objRange(82), xTicks: X_TICKS_20K, yMin: 1.70, yMax: 46.4,
    series: [['TPE', A_sf_TPE], ['BORE', A_sf_BORE], ['CQR', A_sf_CQR], ['REA', A_sf_REA], ['Random Search', A_sf_RS]],
    band: [A_sf_CQR_HI, A_sf_CQR_LO] },
  { kind: 'obj', title: T1, box: [317, 69, 563, 193], ...objRange(83), xTicks: X_TICKS_20K, yMin: 1.67, yMax: 71.6,
    series: [['CQR', A_tl_CQR], ['Bounding Box', A_tl_BB], ['Zero Shot', A_tl_ZS], ['Quantile Transfer', A_tl_QT]],
    band: [A_tl_CQR_HI, A_tl_CQR_LO] },
  { kind: 'obj', title: T1, box: [598, 68, 842, 193], ...objRange(82), xTicks: X_TICKS_20K, yMin: 1.67, yMax: 45.6,
    series: [['CQR', A_mf_CQR], ['ASHACQR', A_mf_ASHACQR], ['ASHA', A_mf_ASHA], ['BOHB', A_mf_BOHB], ['ASHABORE', A_mf_ASHABORE]],
    band: [A_mf_CQR_HI, A_mf_CQR_LO] },
  { kind: 'rank', title: T1, box: [36, 237, 279, 362], xMin: 0, xMax: 83500, xTicks: X_TICKS_10K, yMin: 1.90, yMax: 4.075,
    series: [['BORE', A_sr_BORE], ['CQR', A_sr_CQR], ['REA', A_sr_REA], ['Random Search', A_sr_RS], ['TPE', A_sr_TPE]] },
  { kind: 'rank', title: T1, box: [316, 236, 555, 362], xMin: 0, xMax: 83000, xTicks: X_TICKS_10K, yMin: 1.19, yMax: 3.82,
    series: [['Bounding Box', A_tr_BB], ['CQR', A_tr_CQR], ['Quantile Transfer', A_tr_QT], ['Zero Shot', A_tr_ZS]] },
  { kind: 'rank', title: T1, box: [597, 237, 836, 362], xMin: 0, xMax: 82500, xTicks: X_TICKS_10K, yMin: 1.59, yMax: 4.63,
    series: [['ASHA', A_mr_ASHA], ['ASHABORE', A_mr_ASHABORE], ['ASHACQR', A_mr_ASHACQR], ['BOHB', A_mr_BOHB], ['CQR', A_mr_CQR]] },

  /* RNA-CLIN */
  { kind: 'obj', title: T2, box: [37, 442, 282, 568], ...objRange(73.6), xTicks: X_TICKS_10K, yMin: 1.23, yMax: 73,
    series: [['TPE', B_sf_TPE], ['BORE', B_sf_BORE], ['Random Search', B_sf_RS], ['REA', B_sf_REA], ['CQR', B_sf_CQR]] },
  { kind: 'obj', title: T2, box: [319, 442, 563, 568], ...objRange(73.6), xTicks: X_TICKS_10K, yMin: 1.18, yMax: 148,
    series: [['CQR', B_tl_CQR], ['Quantile Transfer', B_tl_QT], ['Zero Shot', B_tl_ZS], ['Bounding Box', B_tl_BB]] },
  { kind: 'obj', title: T2, box: [601, 442, 846, 568], ...objRange(73.6), xTicks: X_TICKS_10K, yMin: 1.23, yMax: 73,
    series: [['CQR', B_mf_CQR], ['BOHB', B_mf_BOHB], ['ASHACQR', B_mf_ASHACQR], ['ASHABORE', B_mf_ASHABORE], ['ASHA', B_mf_ASHA]] },
  { kind: 'rank', title: T2, box: [36, 611, 280, 735], xMin: 0, xMax: 73600, xTicks: X_TICKS_10K, yMin: 1.71, yMax: 4.096,
    series: [['BORE', B_sr_BORE], ['CQR', B_sr_CQR], ['REA', B_sr_REA], ['Random Search', B_sr_RS], ['TPE', B_sr_TPE]] },
  { kind: 'rank', title: T2, box: [317, 611, 562, 735], xMin: 0, xMax: 73600, xTicks: X_TICKS_10K, yMin: 1.16, yMax: 3.77,
    series: [['Bounding Box', B_tr_BB], ['CQR', B_tr_CQR], ['Quantile Transfer', B_tr_QT], ['Zero Shot', B_tr_ZS]] },
  { kind: 'rank', title: T2, box: [599, 611, 842, 735], xMin: 0, xMax: 73600, xTicks: X_TICKS_10K, yMin: 1.78, yMax: 4.38,
    series: [['ASHA', B_mr_ASHA], ['ASHABORE', B_mr_ASHABORE], ['ASHACQR', B_mr_ASHACQR], ['BOHB', B_mr_BOHB], ['CQR', B_mr_CQR]] },

  /* RNA-METH-CLIN */
  { kind: 'obj', title: T3, box: [37, 815, 282, 941], ...objRange(73.6), xTicks: X_TICKS_10K, yMin: 1.30, yMax: 82,
    series: [['BORE', C_sf_BORE], ['REA', C_sf_REA], ['Random Search', C_sf_RS], ['CQR', C_sf_CQR], ['TPE', C_sf_TPE]] },
  { kind: 'obj', title: T3, box: [319, 815, 563, 941], ...objRange(73.6), xTicks: X_TICKS_10K, yMin: 1.32, yMax: 145,
    series: [['CQR', C_tl_CQR], ['Zero Shot', C_tl_ZS], ['Quantile Transfer', C_tl_QT], ['Bounding Box', C_tl_BB]] },
  { kind: 'obj', title: T3, box: [601, 815, 846, 941], ...objRange(73.6), xTicks: X_TICKS_10K, yMin: 1.27, yMax: 80,
    series: [['CQR', C_mf_CQR], ['ASHACQR', C_mf_ASHACQR], ['ASHABORE', C_mf_ASHABORE], ['BOHB', C_mf_BOHB], ['ASHA', C_mf_ASHA]] },
  { kind: 'rank', title: T3, box: [36, 984, 280, 1110], xMin: 0, xMax: 73600, xTicks: X_TICKS_10K, yMin: 1.825, yMax: 4.035,
    series: [['BORE', C_sr_BORE], ['CQR', C_sr_CQR], ['REA', C_sr_REA], ['Random Search', C_sr_RS], ['TPE', C_sr_TPE]] },
  { kind: 'rank', title: T3, box: [317, 984, 562, 1110], xMin: 0, xMax: 73600, xTicks: X_TICKS_10K, yMin: 1.09, yMax: 3.94,
    series: [['Bounding Box', C_tr_BB], ['CQR', C_tr_CQR], ['Quantile Transfer', C_tr_QT], ['Zero Shot', C_tr_ZS]] },
  { kind: 'rank', title: T3, box: [599, 984, 842, 1110], xMin: 0, xMax: 73600, xTicks: X_TICKS_10K, yMin: 1.37, yMax: 4.63,
    series: [['ASHA', C_mr_ASHA], ['ASHABORE', C_mr_ASHABORE], ['ASHACQR', C_mr_ASHACQR], ['BOHB', C_mr_BOHB], ['CQR', C_mr_CQR]] }
];

panels.forEach(makePanel);
</script>
</body>
</html>
